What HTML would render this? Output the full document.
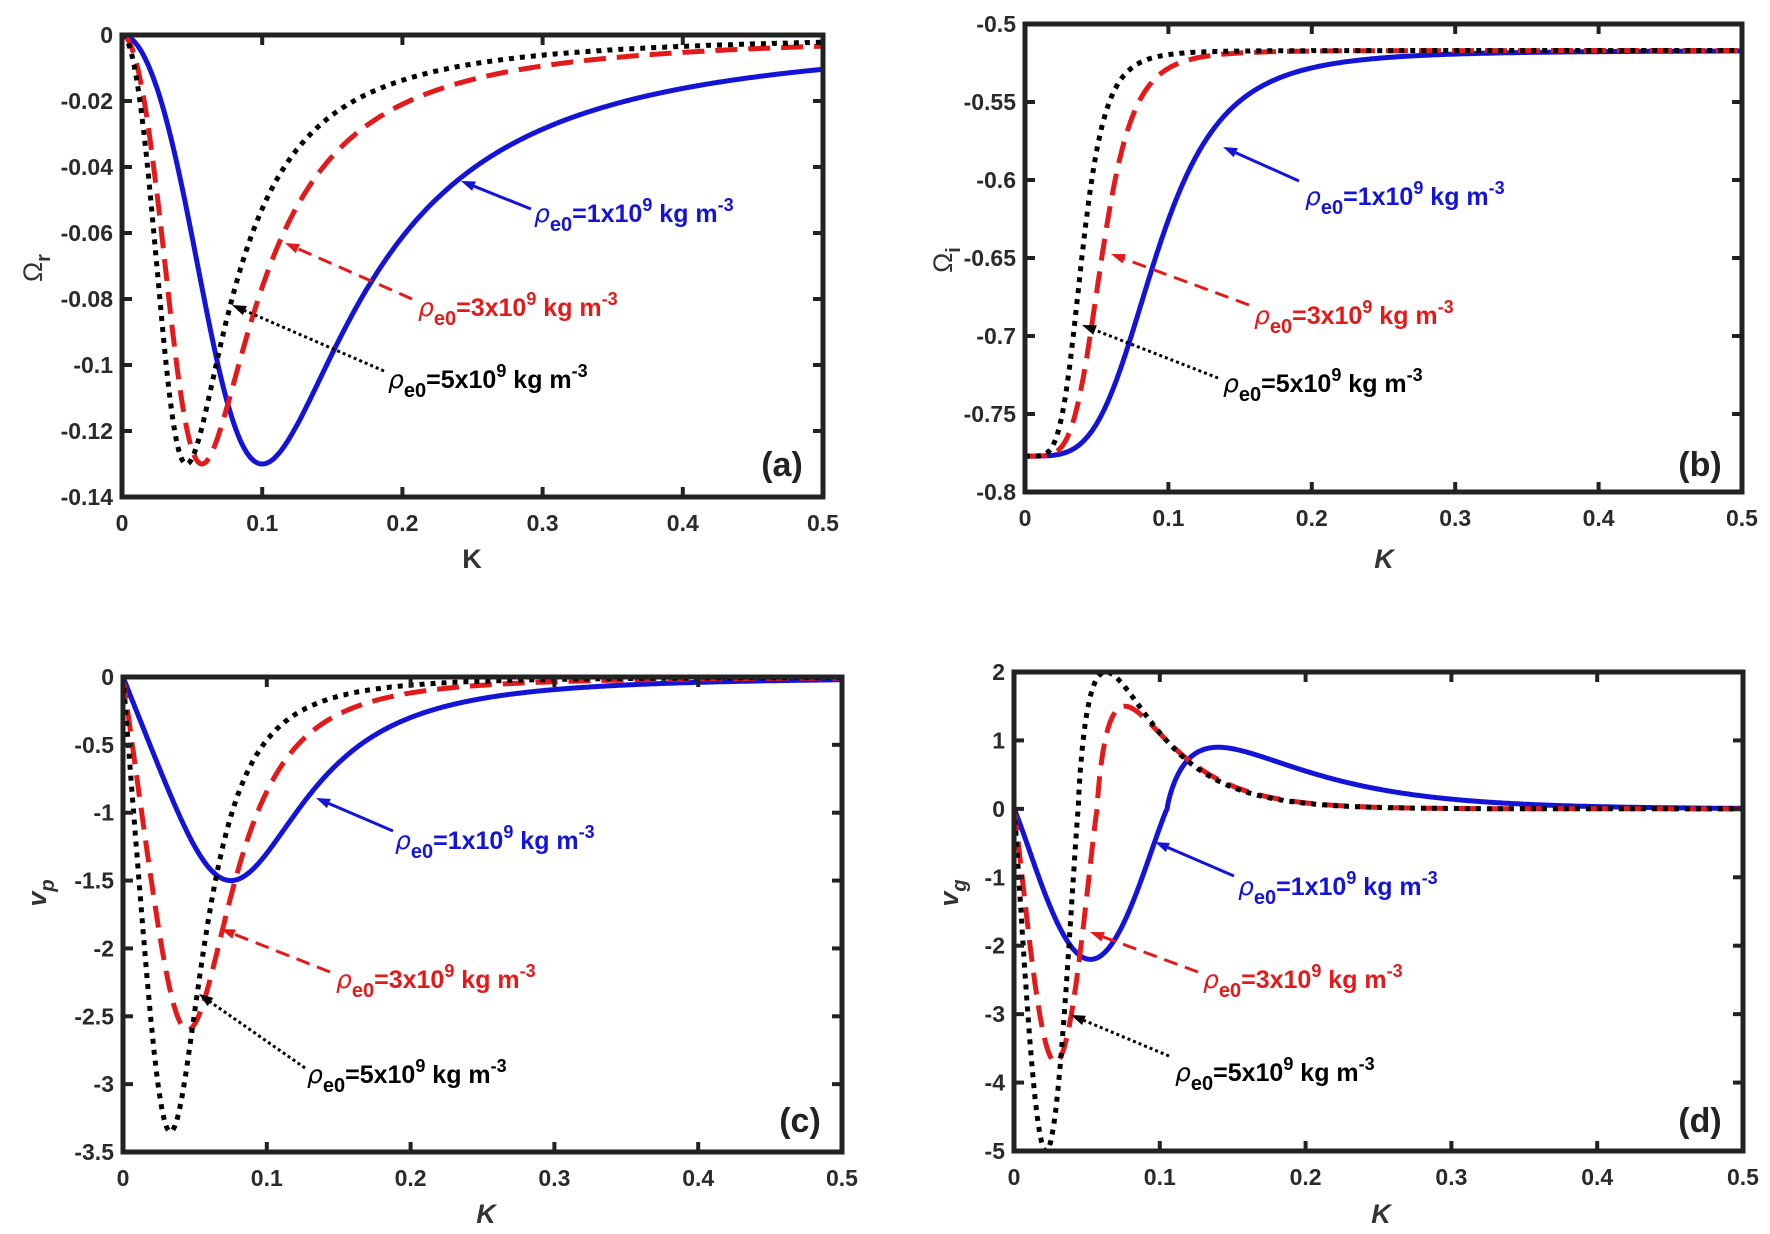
<!DOCTYPE html>
<html><head><meta charset="utf-8">
<style>
html,body{margin:0;padding:0;background:#fff;}
svg{display:block;}
text{font-family:"Liberation Sans",Arial,sans-serif;}
</style></head>
<body>
<svg id="s" width="1770" height="1234" xmlns="http://www.w3.org/2000/svg"></svg>
<script>
const S=document.getElementById('s');
let out='';
const BLUE='#1414d8',RED='#e41a1a',BLK='#000';
function panel(p){
  const {x0,x1,y0,y1,ymin,ymax,yt,ylabs,curves}=p;
  const X=k=>x0+(x1-x0)*k/0.5;
  const Y=v=>y0+(y1-y0)*(ymax-v)/(ymax-ymin);
  out+=`<defs><clipPath id="c${p.id}"><rect x="${x0}" y="${y0-4}" width="${x1-x0}" height="${y1-y0+8}"/></clipPath></defs>`;
  for(const c of curves){
    let d='';
    for(let i=0;i<=1000;i++){const k=0.5*i/1000;let v=c.f(k);if(!isFinite(v))v=0;v=Math.max(ymin,Math.min(ymax,v));d+=(i?'L':'M')+X(k).toFixed(1)+','+Y(v).toFixed(1);}
    out+=`<path d="${d}" fill="none" stroke="${c.col}" stroke-width="${c.w}" ${c.dash?`stroke-dasharray="${c.dash}"`:''} clip-path="url(#c${p.id})"/>`;
  }
  out+=`<rect x="${x0}" y="${y0}" width="${x1-x0}" height="${y1-y0}" fill="none" stroke="#222" stroke-width="5"/>`;
  for(let i=0;i<=5;i++){const xx=X(i*0.1);
    out+=`<line x1="${xx}" y1="${y1}" x2="${xx}" y2="${y1-10}" stroke="#222" stroke-width="4"/>`;
    out+=`<line x1="${xx}" y1="${y0}" x2="${xx}" y2="${y0+10}" stroke="#222" stroke-width="4"/>`;
    out+=`<text x="${xx}" y="${y1+34}" font-size="23" font-weight="bold" fill="#2a2a2a" text-anchor="middle">${i==0?'0':(i/10).toString()}</text>`;
  }
  yt.forEach((v,i)=>{const yy=Y(v);
    out+=`<line x1="${x0}" y1="${yy}" x2="${x0+10}" y2="${yy}" stroke="#222" stroke-width="4"/>`;
    out+=`<line x1="${x1}" y1="${yy}" x2="${x1-10}" y2="${yy}" stroke="#222" stroke-width="4"/>`;
    out+=`<text x="${x0-9}" y="${yy+8}" font-size="23" font-weight="bold" fill="#2a2a2a" text-anchor="end">${ylabs[i]}</text>`;
  });
}
function ann(tx,ty,hx,hy,lx,ly,col,dash,sup){
  const a=Math.atan2(hy-ty,hx-tx),L=14,W=5;
  const bx=hx-L*Math.cos(a),by=hy-L*Math.sin(a);
  out+=`<line x1="${tx}" y1="${ty}" x2="${bx}" y2="${by}" stroke="${col}" stroke-width="3" ${dash=='dash'?'stroke-dasharray="14,8"':dash=='dot'?'stroke-dasharray="3,3"':''}/>`;
  out+=`<polygon points="${hx},${hy} ${bx-W*Math.sin(a)},${by+W*Math.cos(a)} ${bx+W*Math.sin(a)},${by-W*Math.cos(a)}" fill="${col}"/>`;
  out+=`<text x="${lx}" y="${ly}" font-size="25" font-weight="bold" fill="${col}"><tspan font-style="italic" font-weight="normal" font-family="DejaVu Sans, sans-serif">ρ</tspan><tspan dy="9" font-size="20">e0</tspan><tspan dy="-9">=${sup}x10</tspan><tspan dy="-11" font-size="18">9</tspan><tspan dy="11"> kg m</tspan><tspan dy="-11" font-size="18">-3</tspan></text>`;
}
function lab(x,y,t,sub,italic,serif){
  out+=`<text x="${x}" y="${y}" font-size="27" font-weight="${serif?'normal':'bold'}" fill="#333" ${italic?'font-style="italic"':''} ${serif?'font-family="Liberation Serif, serif"':''} text-anchor="middle" transform="rotate(-90 ${x} ${y})">${t}<tspan dy="8" font-size="20" font-family="Liberation Sans, sans-serif" font-weight="bold">${sub}</tspan></text>`;
}
const ga=u=>2*u*u/(1+u**4);
const gc=u=>4*u/(3+u**4);
const hb=(u,n)=>u**n/(1+u**n);
function vg(k,A,Kc,Ap,Kp){
  if(k<=Kc) return -A*Math.pow(Math.max(0,Math.sin(Math.PI*k/Kc)),1.1);
  const r=(k-Kc)/(Kp-Kc);const s=Math.pow(r,0.85);return Ap*s*Math.exp(1-s);
}
panel({id:'a',x0:122,x1:823,y0:35,y1:497,ymin:-0.14,ymax:0,
  yt:[0,-0.02,-0.04,-0.06,-0.08,-0.1,-0.12,-0.14],ylabs:['0','-0.02','-0.04','-0.06','-0.08','-0.1','-0.12','-0.14'],
  curves:[{f:k=>-0.13*ga(k/0.1),col:BLUE,w:5},{f:k=>-0.13*ga(k/0.057),col:RED,w:5,dash:'22,11'},{f:k=>-0.13*ga(k/0.046),col:BLK,w:5,dash:'5,6'}]});
panel({id:'b',x0:1025,x1:1742,y0:24,y1:492,ymin:-0.8,ymax:-0.5,
  yt:[-0.5,-0.55,-0.6,-0.65,-0.7,-0.75,-0.8],ylabs:['-0.5','-0.55','-0.6','-0.65','-0.7','-0.75','-0.8'],
  curves:[{f:k=>-0.777+0.26*hb(k/0.092,4),col:BLUE,w:5},{f:k=>-0.777+0.26*hb(k/0.054,5),col:RED,w:5,dash:'22,11'},{f:k=>-0.777+0.26*hb(k/0.04,5),col:BLK,w:5,dash:'5,6'}]});
panel({id:'c',x0:123,x1:842,y0:677,y1:1152,ymin:-3.5,ymax:0,
  yt:[0,-0.5,-1,-1.5,-2,-2.5,-3,-3.5],ylabs:['0','-0.5','-1','-1.5','-2','-2.5','-3','-3.5'],
  curves:[{f:k=>-1.5*gc(k/0.075),col:BLUE,w:5},{f:k=>-2.6*gc(k/0.045),col:RED,w:5,dash:'22,11'},{f:k=>-3.35*gc(k/0.033),col:BLK,w:5,dash:'5,6'}]});
panel({id:'d',x0:1014,x1:1743,y0:672,y1:1151,ymin:-5,ymax:2,
  yt:[2,1,0,-1,-2,-3,-4,-5],ylabs:['2','1','0','-1','-2','-3','-4','-5'],
  curves:[{f:k=>vg(k,2.2,0.105,0.9,0.14),col:BLUE,w:5},{f:k=>vg(k,3.7,0.057,1.5,0.076),col:RED,w:5,dash:'22,11'},{f:k=>vg(k,5.0,0.044,2.0,0.063),col:BLK,w:5,dash:'5,6'}]});
ann(531,209,461,181,534,222,BLUE,'solid','1');
ann(412,299,285,243,418,316,RED,'dash','3');
ann(384,371,232,305,388,388,BLK,'dot','5');
ann(1299,181,1223,147,1305,205,BLUE,'solid','1');
ann(1249,305,1111,254,1254,324,RED,'dash','3');
ann(1218,378,1082,325,1223,392,BLK,'dot','5');
ann(393,831,316,798,395,849,BLUE,'solid','1');
ann(330,972,221,929,336,988,RED,'dash','3');
ann(305,1068,199,994,307,1083,BLK,'dot','5');
ann(1234,876,1155,842,1238,895,BLUE,'solid','1');
ann(1198,972,1090,932,1203,988,RED,'dash','3');
ann(1169,1056,1071,1015,1175,1081,BLK,'dot','5');
out+=`<text x="782" y="476" font-size="34" font-weight="bold" fill="#222" text-anchor="middle">(a)</text>`;
out+=`<text x="1700" y="476" font-size="34" font-weight="bold" fill="#222" text-anchor="middle">(b)</text>`;
out+=`<text x="800" y="1132" font-size="34" font-weight="bold" fill="#222" text-anchor="middle">(c)</text>`;
out+=`<text x="1700" y="1132" font-size="34" font-weight="bold" fill="#222" text-anchor="middle">(d)</text>`;
out+=`<text x="472" y="568" font-size="27" font-weight="bold" fill="#333" text-anchor="middle">K</text>`;
out+=`<text x="1384" y="568" font-size="27" font-weight="bold" font-style="italic" fill="#333" text-anchor="middle">K</text>`;
out+=`<text x="486" y="1223" font-size="27" font-weight="bold" font-style="italic" fill="#333" text-anchor="middle">K</text>`;
out+=`<text x="1381" y="1223" font-size="27" font-weight="bold" font-style="italic" fill="#333" text-anchor="middle">K</text>`;
lab(42,268,'Ω','r',false,true);
lab(952,260,'Ω','i',false,true);
lab(46,893,'v','p',true,false);
lab(958,893,'v','g',true,false);
S.innerHTML=out;
</script>
</body></html>
